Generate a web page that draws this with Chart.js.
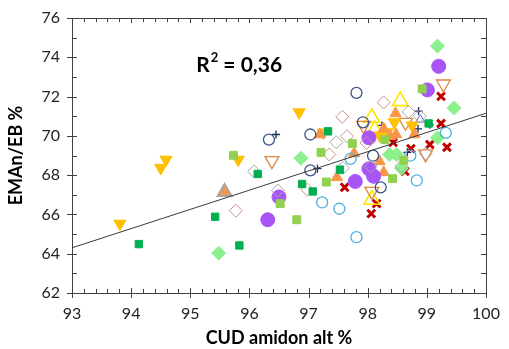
<!DOCTYPE html>
<html lang="fr">
<head>
<meta charset="UTF-8">
<script src="https://cdn.jsdelivr.net/npm/chart.js"></script>
<title>EMAn/EB vs CUD amidon</title>
<style>
  html, body { margin: 0; padding: 0; background: #fff; }
  #wrap { width: 509px; height: 349px; }
</style>
</head>
<body>
<div id="wrap"><canvas id="chart"></canvas></div>
<script>
// --- data (x = CUD amidon alt %, y = EMAn/EB %) ---
const goldTriX = [93.81, 94.50, 94.59, 95.81, 96.84, 97.25, 98.45, 98.75, 98.20, 98.33];
const goldTriY = [65.53, 68.37, 68.79, 68.79, 71.20, 70.17, 70.69, 70.53, 70.02, 70.18];

const darkSqX = [94.13, 95.42, 95.83, 96.14, 97.33, 97.53, 96.89, 97.07, 99.03];
const darkSqY = [64.49, 65.88, 64.42, 68.06, 70.23, 68.28, 67.55, 67.17, 70.63];

const lightSqX = [95.73, 97.21, 97.30, 96.52, 96.80, 98.92, 98.29, 97.74, 98.61, 98.42];
const lightSqY = [69.01, 69.16, 67.65, 66.55, 65.73, 72.39, 69.81, 69.61, 68.76, 67.82];

const diamondX = [95.48, 96.87, 99.18, 99.46, 99.18, 98.37, 98.49, 98.57];
const diamondY = [64.03, 68.86, 74.57, 71.42, 69.90, 69.05, 69.05, 68.35];

const purpleX = [96.50, 96.31, 99.20, 99.01, 98.02, 98.02, 98.10, 97.79];
const purpleY = [66.89, 65.73, 73.54, 72.34, 69.90, 68.32, 67.94, 67.68];

const orangeTriX = [97.19, 97.48, 97.77, 98.47, 98.27, 98.48, 98.38, 98.79, 98.20, 98.27];
const orangeTriY = [70.07, 67.89, 69.10, 71.14, 70.36, 70.07, 69.98, 70.07, 68.70, 68.14];

const greyOrangeX = [95.58];
const greyOrangeY = [67.14];

const rosyX = [95.77, 97.57, 97.65, 97.35, 96.98, 98.27, 97.98];
const rosyY = [66.19, 70.97, 69.98, 69.05, 67.26, 71.70, 69.64];

const greyDiaX = [97.47, 96.08, 96.48, 98.69, 98.88, 98.57, 98.05, 97.58, 98.98];
const greyDiaY = [69.67, 68.19, 67.22, 71.22, 71.00, 68.45, 68.45, 68.37, 69.10];

const navyCircX = [96.33, 97.03, 97.03, 97.81, 97.92, 98.09, 98.22];
const navyCircY = [69.81, 70.07, 68.24, 72.19, 70.69, 68.99, 67.38];

const navyPlusX = [96.45, 97.15, 98.86, 98.24, 99.05, 98.85, 98.67];
const navyPlusY = [70.07, 68.33, 71.26, 70.53, 70.56, 70.36, 69.16];

const blueCircX = [97.23, 97.52, 99.32, 98.72, 97.71, 98.83, 97.81];
const blueCircY = [66.61, 66.29, 70.15, 68.99, 68.83, 67.73, 64.84];

const openDownX = [96.38, 99.28, 97.93, 98.64, 98.98, 98.07];
const openDownY = [68.74, 72.64, 70.53, 70.69, 69.08, 67.17];

const yellowX = [98.55, 98.07, 98.12, 98.07];
const yellowY = [71.77, 70.92, 70.30, 66.75];

const redXx = [97.61, 99.24, 99.24, 99.34, 99.05, 98.43, 98.73, 98.63, 98.15, 98.06];
const redXy = [67.38, 72.01, 70.63, 69.42, 69.56, 69.67, 69.35, 68.19, 66.55, 66.04];

const smallTriX = [98.89];
const smallTriY = [70.83];

const trendX = [93, 100];
const trendY = [64.3, 71.15];

const rSquared = '0,36';

function pts(xs, ys) { return xs.map((x, i) => ({x: x, y: ys[i]})); }

function series(xs, ys, style) {
    return Object.assign({
        type: 'scatter',
        data: pts(xs, ys),
        borderWidth: 1,
        pointHoverRadius: 0
    }, style);
}

const datasets = [
    {
        type: 'line',
        data: pts(trendX, trendY),
        borderColor: '#3a3a3a',
        borderWidth: 1,
        pointRadius: 0,
        fill: false
    },
    series(lightSqX, lightSqY, {pointStyle: 'rect', pointRadius: 5.6, backgroundColor: '#92D050', borderColor: '#92D050'}),
    series(darkSqX, darkSqY, {pointStyle: 'rect', pointRadius: 5.2, backgroundColor: '#00B050', borderColor: '#00B050'}),
    series(rosyX, rosyY, {pointStyle: 'rectRot', pointRadius: 6.5, backgroundColor: 'transparent', borderColor: '#C98F8C'}),
    series(greyDiaX, greyDiaY, {pointStyle: 'rectRot', pointRadius: 6.5, backgroundColor: 'transparent', borderColor: '#A6A6A6'}),
    series(blueCircX, blueCircY, {pointStyle: 'circle', pointRadius: 5.5, backgroundColor: 'transparent', borderColor: '#4BB0E0', borderWidth: 1.3}),
    series(navyCircX, navyCircY, {pointStyle: 'circle', pointRadius: 5.5, backgroundColor: 'transparent', borderColor: '#3C5585', borderWidth: 1.3}),
    series(diamondX, diamondY, {pointStyle: 'rectRot', pointRadius: 7, backgroundColor: '#8CF08C', borderColor: '#8CF08C'}),
    series(purpleX, purpleY, {pointStyle: 'circle', pointRadius: 7, backgroundColor: '#A855F7', borderColor: '#A855F7'}),
    series(greyOrangeX, greyOrangeY, {pointStyle: 'triangle', pointRadius: 8, backgroundColor: '#F79646', borderColor: '#A6A6A6', borderWidth: 2}),
    series(orangeTriX, orangeTriY, {pointStyle: 'triangle', pointRadius: 6.5, backgroundColor: '#F79646', borderColor: '#F79646'}),
    series(goldTriX, goldTriY, {pointStyle: 'triangle', pointRadius: 7, rotation: 180, backgroundColor: '#FFC000', borderColor: '#FFC000'}),
    series(openDownX, openDownY, {pointStyle: 'triangle', pointRadius: 8, rotation: 180, backgroundColor: 'transparent', borderColor: '#E0843F', borderWidth: 1.3}),
    series(yellowX, yellowY, {pointStyle: 'triangle', pointRadius: 9, backgroundColor: 'transparent', borderColor: '#FFE600', borderWidth: 1.6}),
    series(smallTriX, smallTriY, {pointStyle: 'triangle', pointRadius: 5, backgroundColor: 'transparent', borderColor: '#6A6AE0'}),
    series(navyPlusX, navyPlusY, {pointStyle: 'cross', pointRadius: 4, backgroundColor: '#1F2D5C', borderColor: '#1F2D5C', borderWidth: 1.3}),
    series(redXx, redXy, {pointStyle: 'crossRot', pointRadius: 5.5, backgroundColor: '#C00000', borderColor: '#C00000', borderWidth: 3})
];

// frame, inner minor ticks and crossing major ticks like the Excel original
const framePlugin = {
    id: 'frame',
    afterDraw(chart) {
        const c = chart.ctx, a = chart.chartArea;
        const xs = chart.scales.x, ys = chart.scales.y;
        c.save();
        c.strokeStyle = '#404040';
        c.lineWidth = 1;
        c.beginPath();
        c.rect(a.left + 0.5, a.top + 0.5, a.right - a.left, a.bottom - a.top);
        for (let v = 93; v <= 100.001; v += 0.2) {
            const p = Math.round(xs.getPixelForValue(v)) + 0.5;
            const major = Math.abs(v - Math.round(v)) < 0.01;
            const inner = major ? 5 : 4;
            c.moveTo(p, a.bottom - inner); c.lineTo(p, a.bottom + (major ? 5 : 0));
            c.moveTo(p, a.top); c.lineTo(p, a.top + inner);
        }
        for (let v = 62; v <= 76.001; v += 1) {
            const p = Math.round(ys.getPixelForValue(v)) + 0.5;
            const major = v % 2 === 0;
            c.moveTo(a.left - (major ? 5 : 0), p); c.lineTo(a.left + 5, p);
            c.moveTo(a.right - 5, p); c.lineTo(a.right, p);
        }
        c.stroke();

        // R² label
        const tx = xs.getPixelForValue(95.1), ty = ys.getPixelForValue(73.6);
        c.fillStyle = '#000';
        c.textBaseline = 'middle';
        c.font = 'bold 21px Lato, sans-serif';
        c.fillText('R', tx, ty);
        let w = c.measureText('R').width;
        c.font = 'bold 13px Lato, sans-serif';
        c.fillText('2', tx + w + 1, ty - 7);
        w += c.measureText('2').width + 1;
        c.font = 'bold 21px Lato, sans-serif';
        c.fillText(' = ' + rSquared, tx + w, ty);
        c.restore();
    }
};

new Chart(document.getElementById('chart'), {
    data: { datasets: datasets },
    options: {
        responsive: true,
        maintainAspectRatio: false,
        animation: false,
        events: [],
        layout: { padding: { top: 18, right: 23, left: 0, bottom: 0 } },
        plugins: { legend: { display: false }, tooltip: { enabled: false } },
        scales: {
            x: {
                type: 'linear',
                min: 93,
                max: 100,
                grid: { display: false },
                border: { display: false },
                ticks: { stepSize: 1, color: '#222', padding: 3, font: { family: 'Lato', size: 16 } },
                title: { display: true, text: 'CUD amidon alt %', color: '#000', padding: { top: 4, bottom: 0 }, font: { family: 'Lato', size: 18, weight: 'bold' } },
                afterFit(s) { s.height = 56; }
            },
            y: {
                type: 'linear',
                min: 62,
                max: 76,
                grid: { display: false },
                border: { display: false },
                ticks: { stepSize: 2, color: '#222', padding: 4, font: { family: 'Lato', size: 16 } },
                title: { display: true, text: 'EMAn/EB %', color: '#000', padding: { top: 5, bottom: 2 }, font: { family: 'Lato', size: 18, weight: 'bold' } },
                afterFit(s) { s.width = 72; }
            }
        }
    },
    plugins: [framePlugin]
});
</script>
</body>
</html>
